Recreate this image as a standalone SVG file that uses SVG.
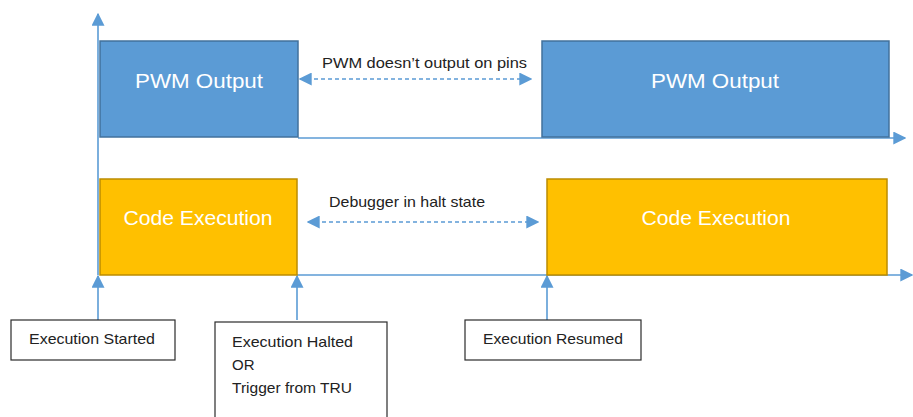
<svg xmlns="http://www.w3.org/2000/svg" width="913" height="417" viewBox="0 0 913 417">
<style>
.pwm{fill:#5B9BD5;stroke:#41719C;stroke-width:1.5}
.code{fill:#FFC000;stroke:#BC8C00;stroke-width:1.5}
.box{fill:#fff;stroke:#2b2b2b;stroke-width:1.2}
.ln{stroke:#5B9BD5;stroke-width:1.6;fill:none}
.dash{stroke:#5B9BD5;stroke-width:1.6;fill:none;stroke-dasharray:4 3}
.big{font-family:"Liberation Sans",Arial,sans-serif;font-size:20px;fill:#fff;text-anchor:middle}
.lbl{font-family:"Liberation Sans",Arial,sans-serif;font-size:15px;fill:#222}
</style>
<defs>
<marker id="ah" viewBox="0 0 10 10" refX="9" refY="5" markerWidth="13" markerHeight="13" markerUnits="userSpaceOnUse" orient="auto-start-reverse">
<path d="M0,0 L10,5 L0,10 z" fill="#5B9BD5"/>
</marker>
</defs>
<g id="connectors">
<line class="ln" x1="98" y1="275" x2="98" y2="14" marker-end="url(#ah)"/>
<line class="ln" x1="298" y1="138" x2="905" y2="138" marker-end="url(#ah)"/>
<line class="ln" x1="297" y1="275" x2="912" y2="275" marker-end="url(#ah)"/>
<line class="dash" x1="300" y1="79" x2="531" y2="79" marker-start="url(#ah)" marker-end="url(#ah)"/>
<line class="dash" x1="308" y1="222" x2="538" y2="222" marker-start="url(#ah)" marker-end="url(#ah)"/>
<line class="ln" x1="98" y1="320" x2="98" y2="276" marker-end="url(#ah)"/>
<line class="ln" x1="297" y1="320" x2="297" y2="276" marker-end="url(#ah)"/>
<line class="ln" x1="547" y1="320" x2="547" y2="276" marker-end="url(#ah)"/>
</g>
<g id="pwm1"><rect class="pwm" x="100" y="41" width="198" height="96"/><text class="big" x="199" y="88" textLength="128" lengthAdjust="spacingAndGlyphs">PWM Output</text></g>
<g id="pwm2"><rect class="pwm" x="542" y="41" width="347" height="96"/><text class="big" x="715" y="88" textLength="128" lengthAdjust="spacingAndGlyphs">PWM Output</text></g>
<g id="code1"><rect class="code" x="100" y="179" width="197" height="96"/><text class="big" x="198" y="225" textLength="149" lengthAdjust="spacingAndGlyphs">Code Execution</text></g>
<g id="code2"><rect class="code" x="547" y="179" width="340" height="96"/><text class="big" x="716" y="225" textLength="149" lengthAdjust="spacingAndGlyphs">Code Execution</text></g>
<g id="lbl-pwm"><text class="lbl" x="322" y="68" textLength="205" lengthAdjust="spacingAndGlyphs">PWM doesn’t output on pins</text></g>
<g id="lbl-dbg"><text class="lbl" x="329" y="207" textLength="156" lengthAdjust="spacingAndGlyphs">Debugger in halt state</text></g>
<g id="started"><rect class="box" x="11" y="320" width="164" height="40"/><text class="lbl" x="29" y="344" textLength="126" lengthAdjust="spacingAndGlyphs">Execution Started</text></g>
<g id="halted"><rect class="box" x="215" y="322" width="172" height="100"/><text class="lbl" x="232" y="347" textLength="121" lengthAdjust="spacingAndGlyphs">Execution Halted</text><text class="lbl" x="232" y="370">OR</text><text class="lbl" x="232" y="393" textLength="120" lengthAdjust="spacingAndGlyphs">Trigger from TRU</text></g>
<g id="resumed"><rect class="box" x="465" y="320" width="176" height="40"/><text class="lbl" x="483" y="344" textLength="140" lengthAdjust="spacingAndGlyphs">Execution Resumed</text></g>
</svg>
